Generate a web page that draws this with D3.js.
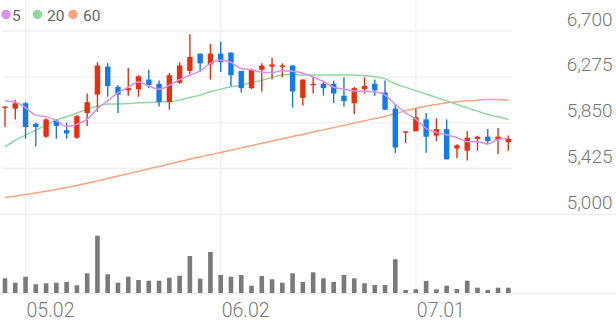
<!DOCTYPE html>
<html><head><meta charset="utf-8">
<script src="https://cdn.jsdelivr.net/npm/d3@7"></script>
<style>html,body{margin:0;padding:0;background:#fff;}svg{display:block;font-family:Roboto,"Noto Sans",sans-serif;}</style>
</head><body>
<svg id="c" width="616" height="321"></svg>
<script>
const dates = ["04.29","04.30","05.02","05.07","05.08","05.09","05.12","05.13","05.14","05.15","05.16","05.19","05.20","05.21","05.22","05.23","05.26","05.27","05.28","05.29","05.30","06.02","06.04","06.05","06.09","06.10","06.11","06.12","06.13","06.16","06.17","06.18","06.19","06.20","06.23","06.24","06.25","06.26","06.27","06.30","07.01","07.02","07.03","07.04","07.07","07.08","07.09","07.10","07.11","07.14"];
const open  = [5990,5980,6030,5840,5720,5870,5780,5710,5940,6110,6370,6180,6150,6160,6250,6210,6040,6220,6330,6490,6390,6490,6500,6330,6170,6340,6370,6370,6380,6080,6200,6210,6210,6100,6030,6160,6210,6130,5980,5760,5770,5880,5730,5790,5610,5590,5700,5720,5690,5670];
const high  = [6000,6060,6040,5850,5890,5880,5850,5920,6120,6410,6400,6200,6360,6290,6340,6240,6310,6410,6670,6490,6580,6600,6500,6330,6350,6400,6450,6400,6380,6250,6280,6240,6240,6270,6180,6270,6250,6240,6020,5770,5980,5940,5890,5880,5650,5770,5730,5790,5800,5730];
const low   = [5810,5880,5700,5630,5710,5700,5700,5700,5820,5950,6090,5940,6100,6090,6170,6000,5970,6210,6300,6320,6250,6320,6190,6130,6160,6140,6250,6270,5990,6010,6120,6100,6030,6000,5930,6120,6100,5970,5570,5660,5770,5570,5680,5510,5520,5500,5590,5650,5560,5590];
const close = [6000,6030,5810,5810,5880,5820,5750,5910,6040,6380,6190,6110,6170,6280,6200,6040,6290,6380,6460,6400,6490,6410,6290,6170,6340,6380,6390,6380,6140,6250,6210,6170,6120,6050,6170,6190,6150,5970,5620,5770,5900,5720,5790,5510,5640,5710,5720,5680,5720,5700];
const volume = [58800,41200,65200,34800,38800,41200,44000,30800,78800,229200,74800,41200,65200,52000,49200,49200,61200,69200,148000,57200,164000,72000,65200,72000,29200,68000,54800,41200,78800,44000,82800,58800,44000,72000,58800,38800,32000,32000,134800,12000,14800,48000,14800,29200,16000,49200,21200,12000,21200,21200];
const ma5  = [6050,6040,5990,5920,5906,5870,5814,5834,5880,5980,6054,6126,6178,6226,6190,6160,6196,6250,6290,6330,6400,6428,6410,6352,6340,6318,6314,6332,6326,6308,6274,6230,6178,6160,6144,6140,6136,6106,6020,5940,5882,5796,5760,5738,5712,5674,5674,5652,5694,5706];
const ma20 = [5625,5687,5734,5780,5827,5873,5905,5940,5975,6003,6022,6024,6028,6034,6036,6043,6045,6059,6084,6105,6136,6161,6182,6198,6223,6242,6270,6291,6298,6291,6291,6291,6291,6291,6291,6285,6275,6256,6210,6177,6145,6115,6084,6052,6019,5987,5957,5926,5904,5880];
const ma60 = [5155,5167,5183,5198,5214,5230,5248,5267,5288,5310,5332,5355,5377,5399,5422,5444,5466,5489,5511,5532,5554,5574,5595,5616,5637,5658,5679,5700,5721,5741,5763,5783,5804,5825,5846,5867,5888,5908,5932,5960,5982,6003,6019,6034,6043,6052,6059,6065,6065,6059];
const priceTicks = [5000,5425,5850,6275,6700];
const dateTicks = ["05.02","06.02","07.01"];
const legendLabels = ["5","20","60"];

const W = 616, H = 321;
const svg = d3.select("#c");
const x = d3.scalePoint().domain(dates).range([5, 508.3]);
const y = d3.scaleLinear().domain([5000, 6700]).range([214.3, 31]);
const yv = d3.scaleLinear().domain([0, d3.max(volume)]).range([293, 235.7]);

const UP = "#e5300f", DOWN = "#1479ea", GRID = "#f0f0f0";
const maColors = ["#d690ee", "#8fd8a0", "#f9a47e"];

// grid
svg.append("g").selectAll("line").data(priceTicks.filter(d => d !== 5000)).join("line")
  .attr("x1", 3).attr("x2", 512).attr("y1", d => y(d)).attr("y2", d => y(d))
  .attr("stroke", GRID).attr("stroke-width", 1.3);
svg.append("g").selectAll("line").data(dateTicks).join("line")
  .attr("x1", d => x(d)).attr("x2", d => x(d)).attr("y1", 0).attr("y2", 293)
  .attr("stroke", GRID).attr("stroke-width", 1.3);
svg.append("line").attr("x1", 0).attr("x2", W).attr("y1", y(5000)).attr("y2", y(5000))
  .attr("stroke", "#ebebeb").attr("stroke-width", 1.3);
svg.append("line").attr("x1", 0).attr("x2", W).attr("y1", yv(0)+0.5).attr("y2", yv(0)+0.5)
  .attr("stroke", "#ebebeb").attr("stroke-width", 1.3);

// y labels
svg.append("g").selectAll("text").data(priceTicks).join("text")
  .attr("x", 612.5).attr("y", d => y(d) - 5.5).attr("text-anchor", "end")
  .attr("font-size", 19).attr("font-weight", 300).attr("fill", "#777")
  .text(d => d3.format(",")(d));

// x labels
svg.append("g").selectAll("text").data(dateTicks).join("text")
  .attr("x", d => x(d) + 1).attr("y", 316.5).attr("text-anchor", "start")
  .attr("font-size", 19.5).attr("font-weight", 300).attr("fill", "#777")
  .text(d => d);

// volume
svg.append("g").selectAll("rect").data(dates).join("rect")
  .attr("x", d => x(d) - 2.3).attr("width", 4.6)
  .attr("y", (d, i) => yv(volume[i])).attr("height", (d, i) => yv(0) - yv(volume[i]))
  .attr("fill", "#7a7a7a");

// moving averages
const mas = [ma5, ma20, ma60];
const lineGen = arr => d3.line().x((d, i) => x(dates[i])).y(d => y(d)).curve(d3.curveMonotoneX)(arr);
[2, 1].forEach(k => {
  svg.append("path").attr("d", lineGen(mas[k])).attr("fill", "none")
    .attr("stroke", maColors[k]).attr("stroke-width", 1.5);
});

// candles
const cg = svg.append("g");
dates.forEach((d, i) => {
  const col = close[i] >= open[i] ? UP : DOWN;
  const cx = x(d);
  cg.append("line").attr("x1", cx).attr("x2", cx).attr("y1", y(high[i])).attr("y2", y(low[i]))
    .attr("stroke", col).attr("stroke-width", 1.4);
  const top = y(Math.max(open[i], close[i])), bot = y(Math.min(open[i], close[i]));
  cg.append("rect").attr("x", cx - 2.7).attr("width", 5.4).attr("y", top)
    .attr("height", Math.max(1.4, bot - top)).attr("fill", col);
});
svg.append("path").attr("d", lineGen(ma5)).attr("fill", "none")
  .attr("stroke", maColors[0]).attr("stroke-width", 1.5);

// legend
const lx = [6, 37.5, 73], tx = [12, 47, 83];
const lg = svg.append("g");
legendLabels.forEach((t, k) => {
  lg.append("circle").attr("cx", lx[k]).attr("cy", 14.5).attr("r", 4.7).attr("fill", maColors[k]);
  lg.append("text").attr("x", tx[k]).attr("y", 20.5).attr("font-size", 15.5)
    .attr("fill", "#666").text(t);
});
</script>
</body></html>
